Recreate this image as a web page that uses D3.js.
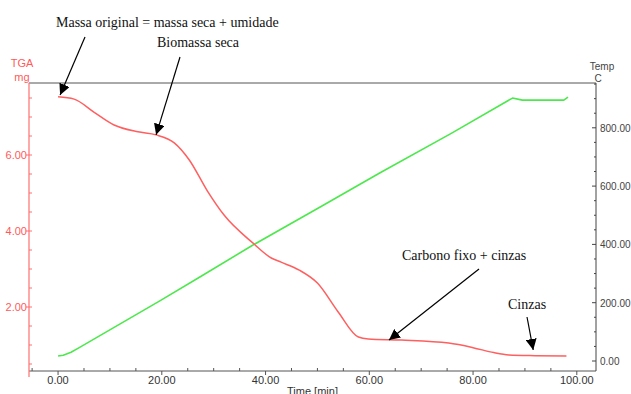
<!DOCTYPE html>
<html>
<head>
    <script src="https://d3js.org/d3.v7.min.js"></script>
    <style>
        body { margin: 0; background: #fff; }
        text { font-family: "Liberation Sans", Arial, sans-serif; }
        .note { font-family: "Liberation Serif", "Times New Roman", serif; font-size: 14px; fill: #111; }
    </style>
</head>
<body>
    <svg width="631" height="394"></svg>
    <script>
        // TGA curve (mass, mg)
        var tgaTime = [0, 3.1, 6.9, 10.8, 15.4, 18.9, 22.4, 25.3, 28.8, 32, 37.6, 41.1, 43, 46.5, 50, 54, 57.9, 59.8, 66.2, 75.3, 80, 84, 86.9, 92, 98];
        var tgaMass = [7.53, 7.47, 7.13, 6.79, 6.61, 6.53, 6.32, 5.87, 5.05, 4.42, 3.68, 3.29, 3.18, 2.97, 2.63, 1.87, 1.21, 1.16, 1.13, 1.05, 0.93, 0.8, 0.74, 0.72, 0.71];

        // temperature programme (C)
        var tempTime = [0, 1, 2.5, 4, 19.7, 27.5, 37.5, 50.7, 62, 75.8, 87.6, 89.5, 92, 97.5, 98.3];
        var tempVal = [17, 20, 30, 45, 207, 290, 397, 530, 645, 781, 902, 895, 895, 895, 905];

        var xTicks = [0, 20, 40, 60, 80, 100];
        var massTicks = [2, 4, 6];
        var tempTicks = [0, 200, 400, 600, 800];

        var svg = d3.select("svg");
        var plotL = 29, plotR = 596, plotT = 83, plotB = 371;

        var x = d3.scaleLinear().domain([-5.6, 103.7]).range([plotL, plotR]);
        var yMass = d3.scaleLinear().domain([0.316, 7.895]).range([plotB, plotT]);
        var yTemp = d3.scaleLinear().domain([-34.3, 953.7]).range([plotB, plotT]);

        // frame line on top
        svg.append("line").attr("x1", plotL).attr("x2", plotR).attr("y1", plotT).attr("y2", plotT)
            .attr("stroke", "#555").attr("stroke-width", 1);

        // bottom axis
        var xAxis = svg.append("g").attr("transform", "translate(0," + plotB + ")");
        xAxis.append("line").attr("x1", plotL).attr("x2", plotR).attr("stroke", "#555");
        xAxis.selectAll(".minor").data(d3.range(-5, 104, 5)).enter().append("line")
            .attr("x1", function(d) { return x(d); }).attr("x2", function(d) { return x(d); })
            .attr("y1", 0).attr("y2", function(d) { return d % 20 === 0 ? 4 : -3; })
            .attr("stroke", "#555");
        xAxis.selectAll(".lbl").data(xTicks).enter().append("text")
            .attr("x", function(d) { return x(d); }).attr("y", 13)
            .attr("text-anchor", "middle").attr("font-size", 11).attr("fill", "#333")
            .text(function(d) { return d.toFixed(2); });
        svg.append("text").attr("x", (plotL + plotR) / 2).attr("y", 395)
            .attr("text-anchor", "middle").attr("font-size", 11).attr("fill", "#333")
            .text("Time  [min]");

        // left axis (mass)
        var lAxis = svg.append("g").attr("transform", "translate(" + plotL + ",0)");
        lAxis.append("line").attr("y1", plotT).attr("y2", plotB + 6).attr("stroke", "#ff6f6f").attr("stroke-width", 1.2);
        lAxis.selectAll(".minor").data(d3.range(0.5, 7.9, 0.5)).enter().append("line")
            .attr("y1", function(d) { return yMass(d); }).attr("y2", function(d) { return yMass(d); })
            .attr("x1", function(d) { return d % 2 === 0 ? -3 : 0; }).attr("x2", 3)
            .attr("stroke", "#ff6f6f");
        lAxis.selectAll(".lbl").data(massTicks).enter().append("text")
            .attr("x", -2).attr("y", function(d) { return yMass(d) + 4; })
            .attr("text-anchor", "end").attr("font-size", 11).attr("fill", "#ff5a5a")
            .text(function(d) { return d.toFixed(2); });
        svg.append("text").attr("x", 22).attr("y", 67).attr("text-anchor", "middle")
            .attr("font-size", 11).attr("fill", "#ff5a5a").text("TGA");
        svg.append("text").attr("x", 22).attr("y", 81).attr("text-anchor", "middle")
            .attr("font-size", 11).attr("fill", "#ff5a5a").text("mg");

        // right axis (temperature)
        var rAxis = svg.append("g").attr("transform", "translate(" + plotR + ",0)");
        rAxis.append("line").attr("y1", plotT).attr("y2", plotB).attr("stroke", "#444");
        rAxis.selectAll(".minor").data(d3.range(0, 951, 50)).enter().append("line")
            .attr("y1", function(d) { return yTemp(d); }).attr("y2", function(d) { return yTemp(d); })
            .attr("x1", function(d) { return d % 200 === 0 ? -4 : -2; }).attr("x2", 0)
            .attr("stroke", "#444");
        rAxis.selectAll(".lbl").data(tempTicks).enter().append("text")
            .attr("x", 4).attr("y", function(d) { return yTemp(d) + 4; })
            .attr("font-size", 10).attr("fill", "#444")
            .text(function(d) { return d.toFixed(2); });
        svg.append("text").attr("x", 602).attr("y", 70).attr("text-anchor", "middle")
            .attr("font-size", 10).attr("fill", "#444").text("Temp");
        svg.append("text").attr("x", 598).attr("y", 82).attr("text-anchor", "middle")
            .attr("font-size", 10).attr("fill", "#444").text("C");

        // curves
        var tempLine = d3.line()
            .x(function(d, i) { return x(tempTime[i]); })
            .y(function(d) { return yTemp(d); });
        svg.append("path").datum(tempVal).attr("d", tempLine)
            .attr("fill", "none").attr("stroke", "#4de84d").attr("stroke-width", 1.6)
            .attr("stroke-linejoin", "round");

        var tgaLine = d3.line()
            .x(function(d, i) { return x(tgaTime[i]); })
            .y(function(d) { return yMass(d); })
            .curve(d3.curveMonotoneX);
        svg.append("path").datum(tgaMass).attr("d", tgaLine)
            .attr("fill", "none").attr("stroke", "#ff5f5f").attr("stroke-width", 1.5);

        // annotations: text, arrow tail (px) and arrow tip (data)
        var defs = svg.append("defs");
        defs.append("marker").attr("id", "head").attr("viewBox", "0 0 10 10")
            .attr("refX", 10).attr("refY", 5).attr("markerWidth", 11).attr("markerHeight", 11)
            .attr("markerUnits", "userSpaceOnUse").attr("orient", "auto")
            .append("path").attr("d", "M0,0 L10,5 L0,10 z").attr("fill", "#000");

        var notes = [
            { text: "Massa original = massa seca + umidade", tx: 56, ty: 27, x0: 85, y0: 37, t: 0.4, m: 7.58 },
            { text: "Biomassa seca", tx: 157, ty: 47, x0: 180, y0: 57, t: 18.9, m: 6.53 },
            { text: "Carbono fixo + cinzas", tx: 402, ty: 260, x0: 479, y0: 269, t: 63.8, m: 1.13 },
            { text: "Cinzas", tx: 508, ty: 309, x0: 527, y0: 317, t: 91.6, m: 0.87 }
        ];
        notes.forEach(function(n) {
            svg.append("text").attr("class", "note").attr("x", n.tx).attr("y", n.ty).text(n.text);
            svg.append("line").attr("x1", n.x0).attr("y1", n.y0)
                .attr("x2", x(n.t)).attr("y2", yMass(n.m))
                .attr("stroke", "#000").attr("stroke-width", 1.2).attr("marker-end", "url(#head)");
        });
    </script>
</body>
</html>
